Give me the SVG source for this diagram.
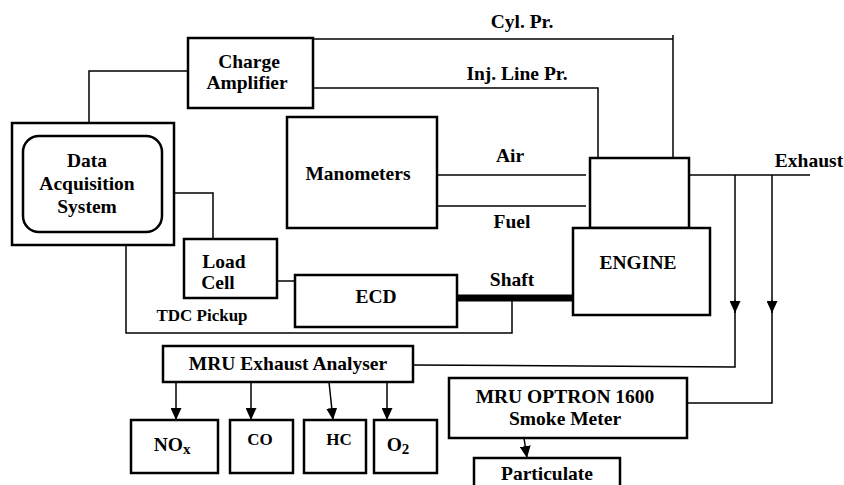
<svg xmlns="http://www.w3.org/2000/svg" width="844" height="485" viewBox="0 0 844 485">
<style>
.b{fill:#fff;stroke:#000;stroke-width:2.5}
.t{font-family:"Liberation Serif","Times New Roman",serif;font-weight:bold;font-size:19.5px;fill:#000;text-anchor:middle}
.s{font-size:17px}
.c{fill:none;stroke:#000;stroke-width:1.5}
</style>
<defs>
<marker id="ah" markerWidth="12" markerHeight="11" refX="12" refY="5.5" orient="auto" markerUnits="userSpaceOnUse">
<path d="M0,0 L12,5.5 L0,11 Z" fill="#000"/>
</marker>
</defs>
<rect width="844" height="485" fill="#fff"/>
<g id="connectors">
<polyline class="c" points="188,71 89,71 89,123"/>
<polyline class="c" points="313,39 673,39"/>
<line class="c" x1="673" y1="35" x2="673" y2="158"/>
<polyline class="c" points="313,88 598,88 598,158"/>
<line class="c" x1="437" y1="175" x2="586" y2="175"/>
<line class="c" x1="437" y1="206" x2="586" y2="206"/>
<line class="c" x1="684" y1="175" x2="810" y2="175"/>
<polyline class="c" points="174,193 213,193 213,239"/>
<line class="c" x1="277" y1="281" x2="295" y2="281"/>
<line x1="457" y1="298" x2="573" y2="298" stroke="#000" stroke-width="7"/>
<polyline class="c" points="126,245 126,333 512,333 512,298"/>
<line class="c" x1="735" y1="175" x2="735" y2="313" marker-end="url(#ah)"/>
<polyline class="c" points="735,300 735,367 413,365"/>
<line class="c" x1="772" y1="175" x2="772" y2="313" marker-end="url(#ah)"/>
<polyline class="c" points="772,300 772,403 687,403"/>
<line class="c" x1="176" y1="382" x2="176" y2="420" marker-end="url(#ah)"/>
<line class="c" x1="251" y1="382" x2="251" y2="420" marker-end="url(#ah)"/>
<line class="c" x1="329" y1="382" x2="333" y2="420" marker-end="url(#ah)"/>
<line class="c" x1="387" y1="382" x2="387" y2="420" marker-end="url(#ah)"/>
<line class="c" x1="524" y1="438" x2="527" y2="458" marker-end="url(#ah)"/>
<text class="t" x="522" y="28">Cyl. Pr.</text>
<text class="t" x="517" y="80">Inj. Line Pr.</text>
<text class="t" x="510" y="162">Air</text>
<text class="t" x="512" y="228">Fuel</text>
<text class="t" x="809" y="167">Exhaust</text>
<text class="t" x="512" y="286">Shaft</text>
<text class="t s" x="202" y="321">TDC Pickup</text>
</g>
<g id="charge-amplifier">
<rect class="b" x="188" y="38" width="125" height="70"/>
<text class="t" x="249" y="68">Charge</text>
<text class="t" x="247" y="89">Amplifier</text>
</g>
<g id="data-acquisition">
<rect class="b" x="12" y="123" width="162" height="122" stroke-width="3"/>
<rect class="b" x="23" y="136" width="139" height="96" rx="16"/>
<text class="t" x="87" y="167">Data</text>
<text class="t" x="87" y="190">Acquisition</text>
<text class="t" x="87" y="213">System</text>
</g>
<g id="manometers">
<rect class="b" x="287" y="117" width="150" height="111"/>
<text class="t" x="358" y="180">Manometers</text>
</g>
<g id="engine-head">
<rect class="b" x="590" y="158" width="99" height="70"/>
</g>
<g id="engine">
<rect class="b" x="573" y="228" width="137" height="87"/>
<text class="t" x="638" y="269" font-size="22">ENGINE</text>
</g>
<g id="load-cell">
<rect class="b" x="184" y="239" width="93" height="59"/>
<text class="t" x="224" y="268">Load</text>
<text class="t" x="218" y="289">Cell</text>
</g>
<g id="ecd">
<rect class="b" x="295" y="275" width="162" height="52"/>
<text class="t" x="376" y="303">ECD</text>
</g>
<g id="mru-exhaust-analyser">
<rect class="b" x="163" y="346" width="250" height="36"/>
<text class="t" x="288" y="370">MRU Exhaust Analyser</text>
</g>
<g id="nox">
<rect class="b" x="131" y="420" width="87" height="53"/>
<text class="t" x="172" y="451" font-size="22">NO<tspan font-size="15" dy="3">x</tspan></text>
</g>
<g id="co">
<rect class="b" x="230" y="420" width="63" height="53"/>
<text class="t s" x="260" y="445">CO</text>
</g>
<g id="hc">
<rect class="b" x="304" y="420" width="62" height="53"/>
<text class="t s" x="339" y="445">HC</text>
</g>
<g id="o2">
<rect class="b" x="374" y="420" width="63" height="53"/>
<text class="t" x="398" y="451" font-size="22">O<tspan font-size="15" dy="3">2</tspan></text>
</g>
<g id="smoke-meter">
<rect class="b" x="449" y="378" width="238" height="60"/>
<text class="t" x="565" y="403" font-size="17.5">MRU OPTRON 1600</text>
<text class="t" x="565" y="425" font-size="18">Smoke Meter</text>
</g>
<g id="particulate">
<rect class="b" x="474" y="458" width="146" height="40"/>
<text class="t" x="547" y="480">Particulate</text>
</g>
</svg>
